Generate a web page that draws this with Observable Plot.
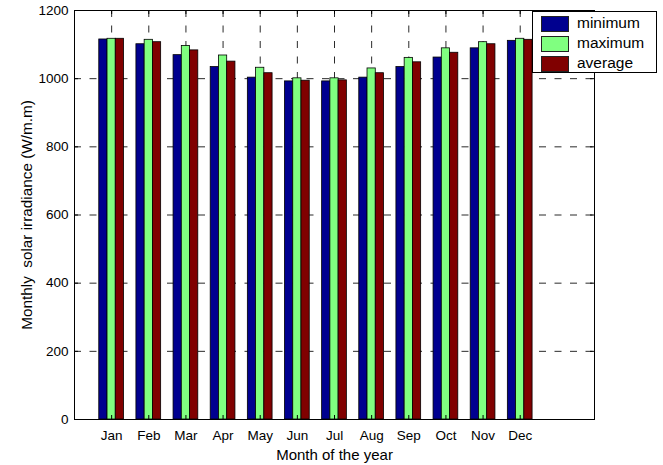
<!DOCTYPE html>
<html>
<head>
<meta charset="utf-8">
<script src="https://cdn.jsdelivr.net/npm/d3@7"></script>
<script src="https://cdn.jsdelivr.net/npm/@observablehq/plot@0.6"></script>
<style>
  html, body { margin: 0; padding: 0; background: #fff; }
  #wrap { position: relative; width: 663px; height: 465px; font-family: "Liberation Sans", Arial, Helvetica, sans-serif; }
  #legend { position: absolute; left: 532px; top: 11px; width: 123px; height: 60px; border: 1px solid #000; background: #fff; }
  .item { position: absolute; left: 8px; height: 15px; }
  .sw { position: absolute; left: 0; top: 0; width: 26px; height: 13.5px; border: 0.8px solid #222; }
  .lab { position: absolute; left: 36px; top: -2px; font-size: 15.5px; line-height: 18px; color: #000; white-space: nowrap; }
</style>
</head>
<body>
<div id="wrap"></div>
<script>
const months = ["Jan","Feb","Mar","Apr","May","Jun","Jul","Aug","Sep","Oct","Nov","Dec"];
const seriesNames = ["minimum","maximum","average"];
const seriesColors = ["#00008f","#80ff80","#800000"];
const minimum = [1115, 1101, 1069, 1034, 1003, 992, 992, 1003, 1034, 1062, 1089, 1111];
const maximum = [1117, 1114, 1096, 1068, 1032, 1001, 1001, 1030, 1061, 1089, 1107, 1117];
const average = [1117, 1107, 1083, 1050, 1016, 994, 995, 1016, 1048, 1076, 1101, 1114];
const yTicks = [0, 200, 400, 600, 800, 1000, 1200];
const yGrid = [200, 400, 600, 800, 1000];
const xTicks = months.map((m, i) => i + 1);
const xLabel = "Month of the year";
const yLabel = "Monthly  solar irradiance (W/m.m)";

const barW = 0.222;
const seriesValues = [minimum, maximum, average];
const data = [];
seriesValues.forEach((vals, s) => {
  vals.forEach((v, i) => {
    const c = i + 1 + (s - 1) * barW;
    data.push({series: seriesNames[s], x1: c - barW / 2, x2: c + barW / 2, value: v});
  });
});

const font = '"Liberation Sans", Arial, Helvetica, sans-serif';
const gridStyle = {stroke: "#2a2a2a", strokeWidth: 1, strokeDasharray: "7,8.5"};

const chart = Plot.plot({
  width: 663,
  height: 465,
  marginLeft: 74,
  marginRight: 69,
  marginTop: 10,
  marginBottom: 46,
  style: {fontFamily: font, fontSize: "13.5px", background: "#fff", color: "#000", overflow: "visible"},
  x: {type: "linear", domain: [0, 14]},
  y: {domain: [0, 1200]},
  color: {domain: seriesNames, range: seriesColors},
  marks: [
    Plot.ruleX(xTicks, {x: d => d, ...gridStyle}),
    Plot.ruleY(yGrid, {y: d => d, ...gridStyle}),
    Plot.rectY(data, {x1: "x1", x2: "x2", y1: 0, y2: "value", fill: "series", stroke: "#000", strokeWidth: 0.8}),
    Plot.tickX(xTicks, {x: d => d, insetTop: 405, stroke: "#000"}),
    Plot.tickX(xTicks, {x: d => d, insetBottom: 405, stroke: "#000"}),
    Plot.tickY(yTicks, {y: d => d, insetRight: 516, stroke: "#000"}),
    Plot.tickY(yTicks, {y: d => d, insetLeft: 516, stroke: "#000"}),
    Plot.frame({stroke: "#000", strokeWidth: 1}),
    Plot.axisX(xTicks, {tickSize: 0, tickPadding: 11, tickFormat: d => months[d - 1], label: null, fontSize: 13.5}),
    Plot.axisY(yTicks, {tickSize: 0, tickPadding: 6, tickFormat: d => String(d), label: null, fontSize: 13.5}),
    Plot.text([xLabel], {frameAnchor: "bottom", dy: 36, lineAnchor: "middle", textAnchor: "middle", fontSize: 15, fill: "#000"}),
    Plot.text([yLabel], {frameAnchor: "left", dx: -47, rotate: -90, lineAnchor: "middle", textAnchor: "middle", fontSize: 15.3, fill: "#000"})
  ]
});

const wrap = document.getElementById("wrap");
wrap.appendChild(chart);

const legend = document.createElement("div");
legend.id = "legend";
seriesNames.forEach((name, i) => {
  const item = document.createElement("div");
  item.className = "item";
  item.style.top = (4 + i * 20) + "px";
  const sw = document.createElement("div");
  sw.className = "sw";
  sw.style.background = seriesColors[i];
  const lab = document.createElement("div");
  lab.className = "lab";
  lab.textContent = name;
  item.appendChild(sw);
  item.appendChild(lab);
  legend.appendChild(item);
});
wrap.appendChild(legend);
</script>
</body>
</html>
